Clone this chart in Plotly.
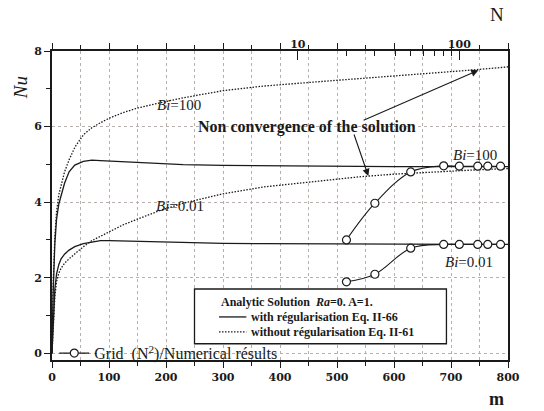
import plotly.graph_objects as go

# ---------------- data ----------------
m_vals = [0, 2, 5, 8, 12, 16, 22, 30, 40, 55, 70, 85, 100, 125, 150, 190, 230,
          300, 370, 470, 540, 600, 670, 740, 800]

nu_reg_bi100 = [0, 1.6, 2.9, 3.55, 3.95, 4.2, 4.5, 4.8, 4.98, 5.08, 5.11, 5.1, 5.09,
                5.06, 5.04, 5.01, 4.99, 4.97, 4.96, 4.95, 4.95, 4.94, 4.94, 4.94, 4.94]
nu_noreg_bi100 = [0, 1.8, 3.1, 3.75, 4.2, 4.45, 4.8, 5.12, 5.45, 5.78, 5.97, 6.1, 6.22,
                  6.37, 6.49, 6.63, 6.76, 6.95, 7.07, 7.19, 7.27, 7.33, 7.42, 7.5, 7.58]
nu_reg_bi001 = [0, 0.9, 1.7, 2.1, 2.35, 2.5, 2.62, 2.73, 2.82, 2.9, 2.95, 2.98, 2.98,
                2.97, 2.96, 2.94, 2.93, 2.91, 2.9, 2.89, 2.89, 2.885, 2.88, 2.88, 2.88]
nu_noreg_bi001 = [0, 0.8, 1.5, 1.9, 2.12, 2.25, 2.38, 2.5, 2.63, 2.82, 2.98, 3.1, 3.22,
                  3.4, 3.55, 3.78, 3.97, 4.22, 4.4, 4.57, 4.67, 4.74, 4.8, 4.85, 4.89]

N_num = [20, 30, 50, 80, 100, 130, 150, 180]
nu_num_bi100 = [3.0, 3.97, 4.8, 4.96, 4.95, 4.95, 4.95, 4.95]
nu_num_bi001 = [1.89, 2.09, 2.78, 2.88, 2.88, 2.88, 2.88, 2.88]

m_ticks = [0, 100, 200, 300, 400, 500, 600, 700, 800]
nu_ticks = [0, 2, 4, 6, 8]
N_ticks = [10, 100]
N_minor = [20, 30, 40, 50, 60, 70, 80, 90, 200]

# ---------------- style ----------------
INK = "#1a1a1a"
GRID = "#b8b0ac"
TICKFONT = dict(family="DejaVu Serif", size=11, color=INK)
SERIF = "Liberation Serif"
DOT = "1.5px,1.5px"

def bold(vals):
    return ["<b>%s</b>" % v for v in vals]

fig = go.Figure()

for y, dash in [(nu_noreg_bi100, DOT), (nu_noreg_bi001, DOT),
                (nu_reg_bi100, "solid"), (nu_reg_bi001, "solid")]:
    fig.add_trace(go.Scatter(x=m_vals, y=y, mode="lines", showlegend=False,
                             line=dict(color=INK, width=1.3, dash=dash),
                             hoverinfo="skip"))

for i, y in enumerate([nu_num_bi100, nu_num_bi001]):
    fig.add_trace(go.Scatter(
        x=N_num, y=y, xaxis="x2", yaxis="y", mode="lines+markers",
        line=dict(color=INK, width=1.1, shape="spline"),
        marker=dict(symbol="circle", size=8, color="white",
                    line=dict(color=INK, width=1.2)),
        name="Grid  (N<sup>2</sup>)/Numerical résults",
        showlegend=(i == 0)))

fig.update_layout(
    width=544, height=411,
    margin=dict(l=52, r=36, t=51, b=51),
    paper_bgcolor="white", plot_bgcolor="white",
    xaxis=dict(range=[0, 800], tickmode="array", tickvals=m_ticks,
               ticktext=bold(m_ticks),
               ticks="outside", ticklen=6, tickwidth=1.2, tickcolor=INK,
               showline=True, linecolor=INK, linewidth=1.6, mirror="allticks",
               showgrid=True, gridcolor=GRID, griddash="dot", gridwidth=1,
               zeroline=False, tickfont=TICKFONT,
               minor=dict(dtick=50, tick0=0, ticks="outside", ticklen=4,
                          tickcolor=INK, showgrid=True, gridcolor=GRID,
                          griddash="dot")),
    xaxis2=dict(type="log", overlaying="x", side="top", anchor="y",
                range=[-0.5223, 2.3014], tickmode="array", tickvals=N_ticks,
                ticktext=bold(N_ticks),
                ticks="inside", ticklen=9, tickwidth=1.2, tickcolor=INK,
                showline=False, showgrid=False, zeroline=False,
                tickfont=TICKFONT,
                minor=dict(tickmode="array", tickvals=N_minor, ticks="inside",
                           ticklen=5, tickcolor=INK, showgrid=False)),
    yaxis=dict(range=[-0.18, 8], tickmode="array", tickvals=nu_ticks,
               ticktext=bold(nu_ticks),
               ticks="outside", ticklen=6, tickwidth=1.2, tickcolor=INK,
               showline=True, linecolor=INK, linewidth=1.6, mirror=True,
               showgrid=True, gridcolor=GRID, griddash="dot", gridwidth=1,
               zeroline=False, tickfont=TICKFONT,
               minor=dict(dtick=1, tick0=0, ticks="outside", ticklen=4,
                          tickcolor=INK, showgrid=False)),
    legend=dict(x=0.005, y=(0 + 0.18) / 8.18, xanchor="left", yanchor="middle",
                bgcolor="rgba(0,0,0,0)", borderwidth=0,
                font=dict(family=SERIF, size=16, color=INK)),
)

# legend box for the analytic solution
fig.add_shape(type="rect", xref="x", yref="y", x0=250, x1=692, y0=0.25, y1=1.70,
              line=dict(color=INK, width=1.3), fillcolor="white", layer="above")
fig.add_shape(type="line", xref="x", yref="y", x0=293, x1=341, y0=0.96, y1=0.96,
              line=dict(color=INK, width=1.3), layer="above")
fig.add_shape(type="line", xref="x", yref="y", x0=293, x1=341, y0=0.565, y1=0.565,
              line=dict(color=INK, width=1.2, dash=DOT), layer="above")

LEG = dict(family=SERIF, size=12, color=INK)
for txt, xx, yy in [("<b>Analytic Solution  <i>Ra</i>=0. A=1.</b>", 293, 1.36),
                    ("<b>with régularisation Eq. II-66</b>", 346, 0.96),
                    ("<b>without régularisation Eq. II-61</b>", 346, 0.565)]:
    fig.add_annotation(x=xx, y=yy, xref="x", yref="y", text=txt, showarrow=False,
                       xanchor="left", yanchor="middle", font=LEG)

# curve labels
LBL = dict(family=SERIF, size=15, color=INK)
for txt, xx, yy in [("<i>Bi</i>=100", 222, 6.57), ("<i>Bi</i>=0.01", 225, 3.9),
                    ("<i>Bi</i>=100", 742, 5.25), ("<i>Bi</i>=0.01", 731, 2.42)]:
    fig.add_annotation(x=xx, y=yy, xref="x", yref="y", text=txt, showarrow=False,
                       font=LBL)

fig.add_annotation(x=447, y=6.0, xref="x", yref="y",
                   text="<b>Non convergence of the solution</b>", showarrow=False,
                   font=dict(family=SERIF, size=16, color=INK))

for hx, hy, tx, ty in [(748, 7.49, 544, 6.15), (555, 4.69, 529, 5.83)]:
    fig.add_annotation(x=hx, y=hy, ax=tx, ay=ty, xref="x", yref="y",
                       axref="x", ayref="y", text="", showarrow=True,
                       arrowhead=2, arrowsize=1.3, arrowwidth=1.1,
                       arrowcolor=INK, standoff=0)

# axis titles
fig.add_annotation(x=-0.070, y=0.88, xref="paper", yref="paper", text="<i>Nu</i>",
                   showarrow=False, textangle=-90, xanchor="center",
                   yanchor="middle", font=dict(family=SERIF, size=19, color=INK))
fig.add_annotation(x=0.976, y=1.117, xref="paper", yref="paper", text="N",
                   showarrow=False, xanchor="center", yanchor="middle",
                   font=dict(family=SERIF, size=19, color=INK))
fig.add_annotation(x=0.974, y=-0.127, xref="paper", yref="paper", text="<b>m</b>",
                   showarrow=False, xanchor="center", yanchor="middle",
                   font=dict(family=SERIF, size=18, color=INK))

fig.write_html("out.html", config={"displayModeBar": False},
               post_script="document.body.style.margin='0';document.body.style.padding='0';")
